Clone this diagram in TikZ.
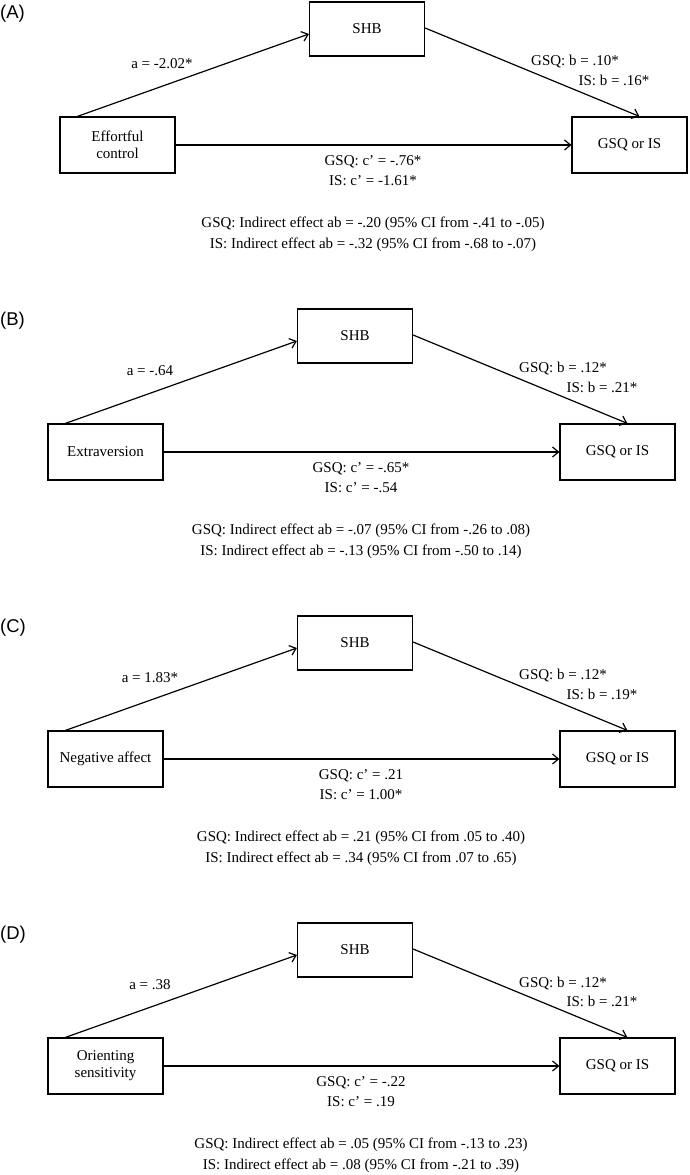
\documentclass[tikz,border=0pt]{standalone}
\usepackage{fontspec}
\setmainfont{Liberation Serif}
\newfontfamily\plsans{Liberation Sans}
\usetikzlibrary{arrows.meta}
\newcommand\lbl{\fontsize{15}{17}\selectfont}
\newcommand\plbl{\plsans\fontsize{18.5}{20}\selectfont}
\tikzset{
 box/.style={draw,line width=1.2pt,minimum width=115pt,minimum height=56pt,inner sep=1pt,align=center,font=\lbl},
 con/.style={-{Straight Barb[length=6pt,width=10pt]},line width=1.2pt},
 txt/.style={font=\lbl,inner sep=0pt}
}
\newcommand\mpanel[9]{%
\node[font=\plbl,anchor=west,inner sep=0pt] (#1-lab) at (0,#3+12) {(#1)};
\begin{scope}[shift={(#2,#3)}]
\node[box,minimum height=54pt] (#1-m) at (355,27) {SHB};
\node[box] (#1-x) at (105.5,143) {#4};
\node[box] (#1-y) at (617.5,143) {GSQ or IS};
\draw[con] ([xshift=18pt]#1-x.north west) -- ([yshift=-5pt]#1-m.west);
\draw[con] ([yshift=1pt]#1-m.east) -- ([xshift=68pt]#1-y.north west);
\draw[con] (#1-x) -- (#1-y);
\node[txt] (#1-a) at (150,62) {#5};
\node[txt] (#1-b1) at (563,60) {#6};
\node[txt] (#1-b2) at (602,78) {#7};
\node[txt] (#1-c1) at (361,160) {#8};
\node[txt] (#1-c2) at (361,179) {#9};
\end{scope}}
\newcommand\mind[5]{%
\node[txt] (#1-i1) at (361+#2,#3+222) {#4};
\node[txt] (#1-i2) at (361+#2,#3+243) {#5};}
\begin{document}
\begin{tikzpicture}[x=1pt,y=-1pt]
\useasboundingbox[fill=white] (0,0) rectangle (690,1175);
\mpanel{A}{12}{2}{Effortful\\control}{a = -2.02*}{GSQ: b = .10*}{IS: b = .16*}{GSQ: c’ = -.76*}{IS: c’ = -1.61*}
\mind{A}{12}{2}{GSQ: Indirect effect ab = -.20 (95\% CI from -.41 to -.05)}{IS: Indirect effect ab = -.32 (95\% CI from -.68 to -.07)}
\mpanel{B}{0}{309}{Extraversion}{a = -.64}{GSQ: b = .12*}{IS: b = .21*}{GSQ: c’ = -.65*}{IS: c’ = -.54}
\mind{B}{0}{309}{GSQ: Indirect effect ab = -.07 (95\% CI from -.26 to .08)}{IS: Indirect effect ab = -.13 (95\% CI from -.50 to .14)}
\mpanel{C}{0}{616}{Negative affect}{a = 1.83*}{GSQ: b = .12*}{IS: b = .19*}{GSQ: c’ = .21}{IS: c’ = 1.00*}
\mind{C}{0}{616}{GSQ: Indirect effect ab = .21 (95\% CI from .05 to .40)}{IS: Indirect effect ab = .34 (95\% CI from .07 to .65)}
\mpanel{D}{0}{923}{Orienting\\sensitivity}{a = .38}{GSQ: b = .12*}{IS: b = .21*}{GSQ: c’ = -.22}{IS: c’ = .19}
\mind{D}{0}{923}{GSQ: Indirect effect ab = .05 (95\% CI from -.13 to .23)}{IS: Indirect effect ab = .08 (95\% CI from -.21 to .39)}
\end{tikzpicture}
\end{document}
